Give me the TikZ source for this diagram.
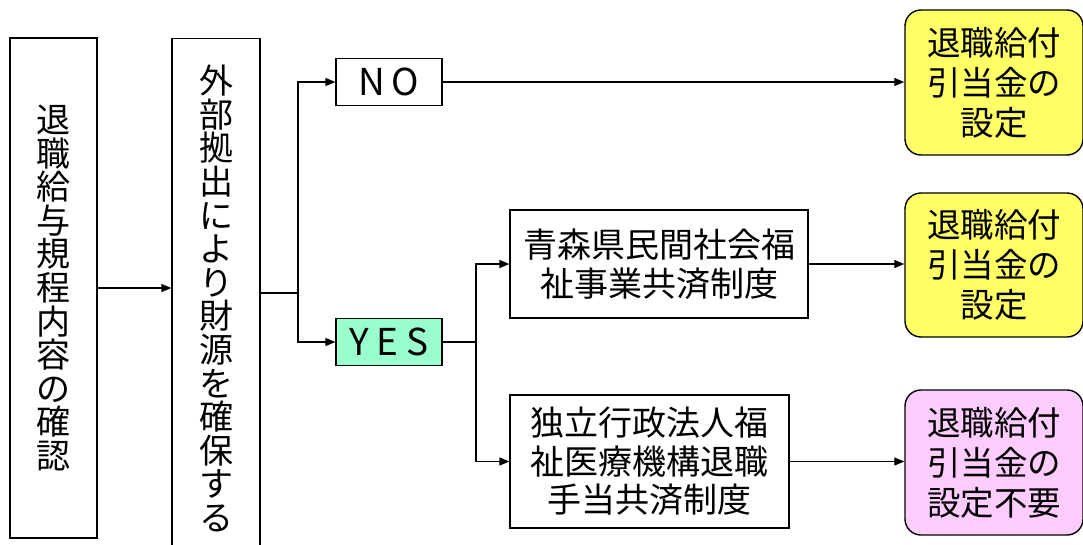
\documentclass[tikz,border=0pt]{standalone}
\usepackage{fontspec}
\setmainfont{Noto Sans CJK JP}
\usetikzlibrary{arrows.meta,positioning}
\definecolor{yel}{HTML}{FFFF66}
\definecolor{grn}{HTML}{99FFCC}
\definecolor{pnk}{HTML}{FFCCFF}
\tikzset{
  box/.style={draw=black,line width=1.2pt,fill=white,inner sep=0pt,align=center},
  vbox/.style={box,font=\fontsize{34}{33.6}\selectfont},
  hbox/.style={box,font=\fontsize{34}{38.5}\selectfont},
  rbox/.style={draw=black,line width=1.4pt,rounded corners=16pt,inner sep=0pt,align=center,
     minimum width=178pt,font=\fontsize{33.5}{40}\selectfont},
  lat/.style={box,font=\fontsize{37}{38}\selectfont,minimum width=106pt,minimum height=47pt},
  arr/.style={line width=1.2pt,-{Triangle[length=10pt,width=8pt]}},
  ln/.style={line width=1.2pt}
}
\begin{document}
\begin{tikzpicture}[x=1pt,y=-1pt]
\useasboundingbox (0,0) rectangle (1083,544);
\fill[white] (0,0) rectangle (1083,544);
\node[vbox,minimum width=87pt,minimum height=500pt] (b1) at (53.5,288)
  {退\\職\\給\\与\\規\\程\\内\\容\\の\\確\\認};
\node[vbox,minimum width=88pt,minimum height=520pt,anchor=north] (b2) at (216,38)
  {外\\部\\拠\\出\\に\\よ\\り\\財\\源\\を\\確\\保\\す\\る};
\node[lat] (no) at (389,82) {N\hspace{6pt}O};
\node[lat,fill=grn] (yes) at (389,342) {Y\hspace{8pt}E\hspace{8pt}S};
\node[hbox,minimum width=298pt,minimum height=108pt] (ao) at (659,264)
  {青森県民間社会福\\祉事業共済制度};
\node[hbox,minimum width=279pt,minimum height=133pt] (dk) at (649.5,461.5)
  {独立行政法人福\\祉医療機構退職\\手当共済制度};
\node[rbox,fill=yel,minimum height=145pt] (y1) at (994,82.5) {退職給付\\引当金の\\設定};
\node[rbox,fill=yel,minimum height=144pt] (y2) at (994,265) {退職給付\\引当金の\\設定};
\node[rbox,fill=pnk,minimum height=145pt] (p1) at (994,462.5) {退職給付\\引当金の\\設定不要};
\coordinate (s1) at (298,293);
\coordinate (s2) at (476,342);
\draw[arr] (b1.east) -- (b1.east -| b2.west);
\draw[ln] (s1 -| b2.east) -- (s1);
\draw[arr] (s1) |- (no.west);
\draw[arr] (s1) |- (yes.west);
\draw[ln] (yes.east) -- (s2);
\draw[arr] (s2) |- (ao.west);
\draw[arr] (s2) |- (dk.west);
\draw[arr] (no.east) -- (no.east -| y1.west);
\draw[arr] (ao.east) -- (ao.east -| y2.west);
\draw[arr] (dk.east) -- (dk.east -| p1.west);
\end{tikzpicture}
\end{document}
